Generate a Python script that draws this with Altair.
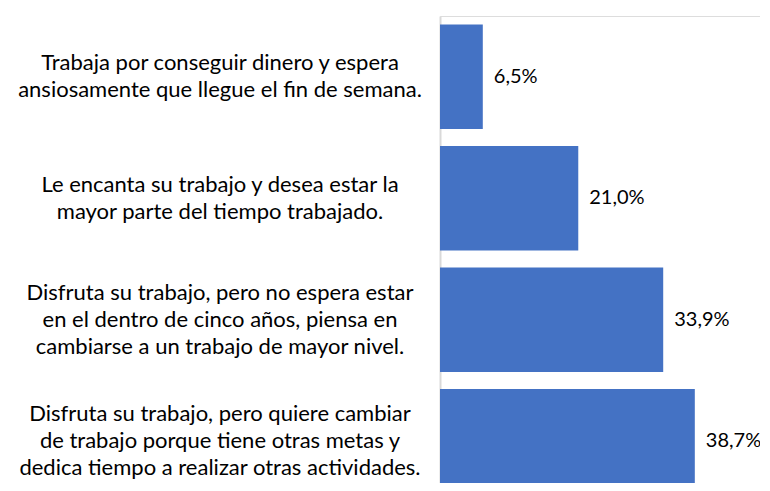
import altair as alt
import pandas as pd

categories = [
    "Trabaja por conseguir dinero y espera|ansiosamente que llegue el fin de semana.",
    "Le encanta su trabajo y desea estar la|mayor parte del tiempo trabajado.",
    "Disfruta su trabajo, pero no espera estar|en el dentro de cinco años, piensa en|cambiarse a un trabajo de mayor nivel.",
    "Disfruta su trabajo, pero quiere cambiar|de trabajo porque tiene otras metas y|dedica tiempo a realizar otras actividades.",
]
values = [6.5, 21.0, 33.9, 38.7]

df = pd.DataFrame({"cat": categories, "val": values})

FONT = "Lato"
LH = 27

base = alt.Chart(df).encode(
    y=alt.Y(
        "cat:N",
        sort=categories,
        scale=alt.Scale(paddingInner=0.14, paddingOuter=0.07, range=[0, 486]),
        axis=alt.Axis(
            title=None,
            ticks=False,
            labels=False,
            domain=True,
            domainColor="#D9D9D9",
            domainWidth=2,
        ),
    ),
)

xenc = alt.X("val:Q", scale=alt.Scale(domain=[0, 48.6], nice=False), axis=None)

bars = base.mark_bar(color="#4472C4").encode(x=xenc)
text = base.mark_text(
    align="left", baseline="middle", dx=11, font=FONT, fontSize=20, color="#000000"
).transform_calculate(
    lbl="replace(format(datum.val, '.1f'), '.', ',') + '%'"
).encode(x=xenc, text="lbl:N")


def cat_layer(n):
    return (
        base.transform_calculate(n="length(split(datum.cat, '|'))")
        .transform_filter(f"datum.n == {n}")
        .mark_text(
            align="center",
            baseline="middle",
            lineBreak="|",
            lineHeight=LH,
            font=FONT,
            fontSize=22,
            color="#000000",
            dy=-(n - 1) * LH / 2,
        )
        .encode(x=alt.value(-220), text="cat:N")
    )


chart = (
    alt.layer(bars, text, cat_layer(2), cat_layer(3))
    .properties(
        width=320,
        height=467,
        autosize=alt.AutoSizeParams(type="none"),
        padding={"left": 432, "top": 8, "right": 0, "bottom": 0},
    )
    .configure_view(stroke=None)
    .configure(background="white")
)

chart.save("out.html", embed_options={"renderer": "svg", "actions": False})
